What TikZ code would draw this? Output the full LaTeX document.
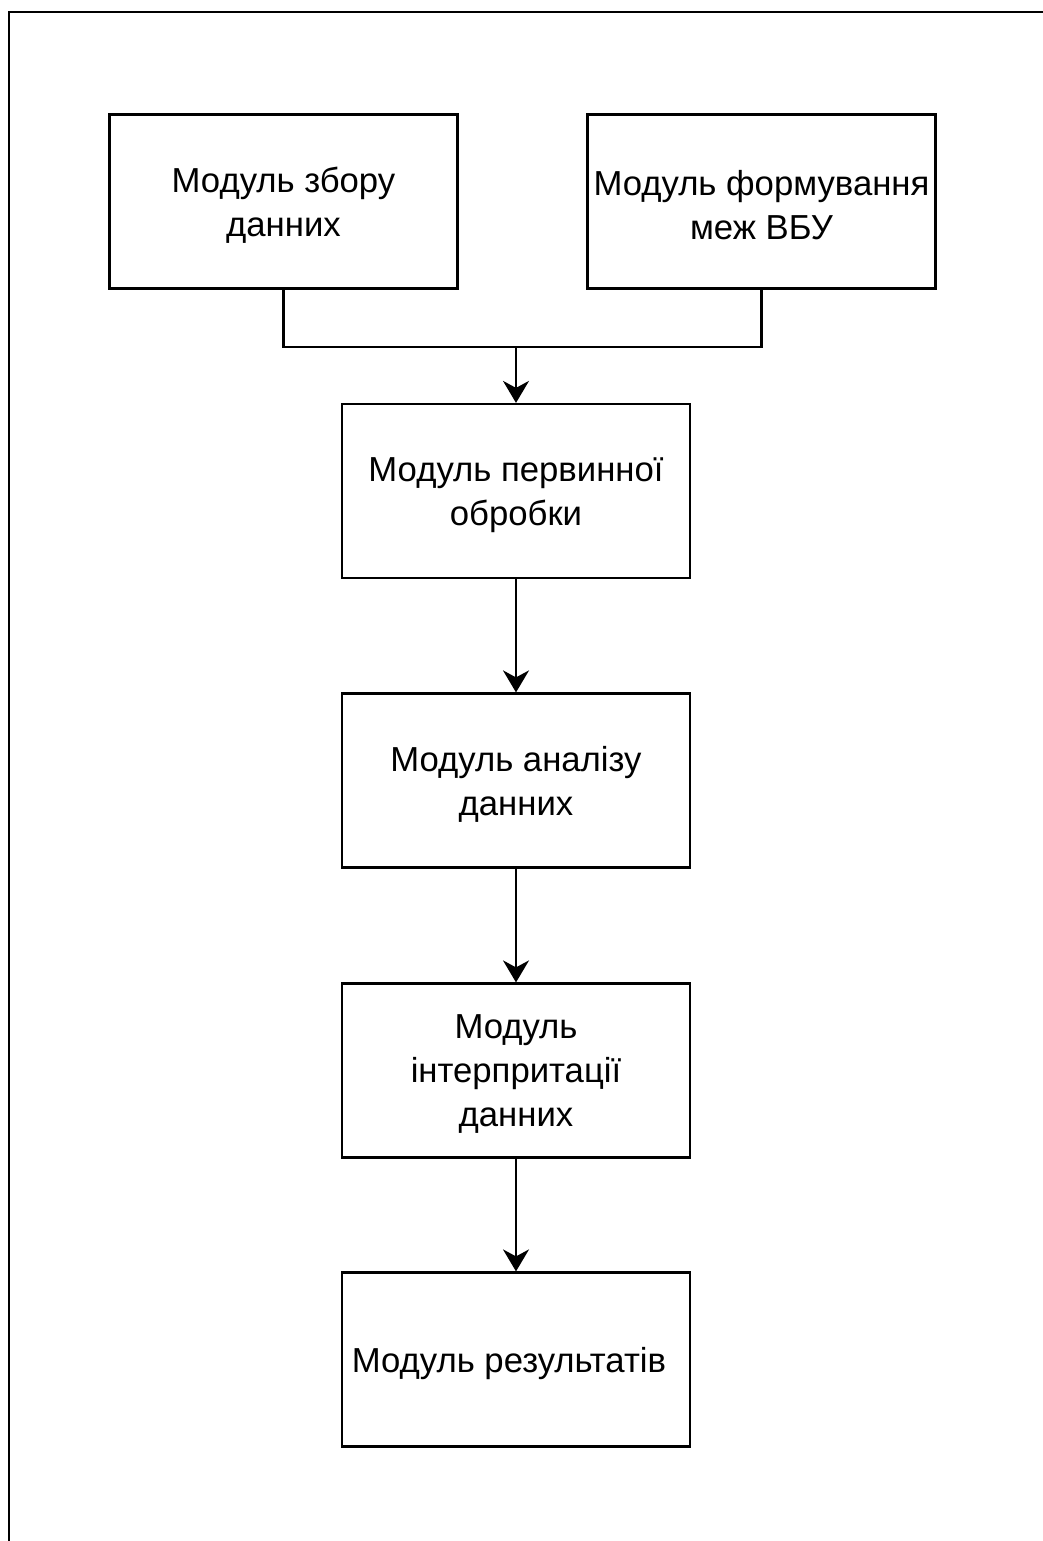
\documentclass[tikz,border=0pt]{standalone}
\usepackage{fontspec}
\setmainfont{Liberation Sans}
\usetikzlibrary{arrows.meta}
\begin{document}
\begin{tikzpicture}[x=1pt,y=-1pt,
  boxnode/.style={draw=black,line width=2.2pt,minimum width=348pt,minimum height=174pt,
    align=center,font=\fontsize{34.7}{44}\selectfont,inner sep=0pt,fill=white},
  txt/.style={yshift=-4pt},
  conn/.style={draw=black,line width=2.2pt},
  arr/.style={conn,-{Stealth[length=22pt,width=26pt,inset=7pt]}}]
\useasboundingbox (0,0) rectangle (1043,1541);
\fill[white] (0,0) rectangle (1043,1541);
\draw[line width=2.2pt] (9,1541) -- (9,12) -- (1043,12);
\node[boxnode] (a) at (283.5,201.5) {};
\node[boxnode] (b) at (761.5,201.5) {};
\node[boxnode] (c) at (516,491) {};
\node[boxnode] (d) at (516,780.5) {};
\node[boxnode] (e) at (516,1070.5) {};
\node[boxnode] (f) at (516,1359.5) {};
\node[boxnode,draw=none,fill=none,txt] (ta) at (a) {Модуль збору\\данних};
\node[boxnode,draw=none,fill=none,txt] (tb) at (b) {Модуль формування\\меж ВБУ};
\node[boxnode,draw=none,fill=none,txt] (tc) at (c) {Модуль первинної\\обробки};
\node[boxnode,draw=none,fill=none,txt] (td) at (d) {Модуль аналізу\\данних};
\node[boxnode,draw=none,fill=none,txt] (te) at (e) {Модуль\\інтерпритації\\данних};
\node[boxnode,draw=none,fill=none,txt,xshift=-7pt] (tf) at (f) {Модуль результатів};
\coordinate (j) at (516,347);
\draw[conn] (a.south) |- (j) -| (b.south);
\draw[arr] (j) -- (c.north);
\draw[arr] (c) -- (d);
\draw[arr] (d) -- (e);
\draw[arr] (e) -- (f);
\end{tikzpicture}
\end{document}
